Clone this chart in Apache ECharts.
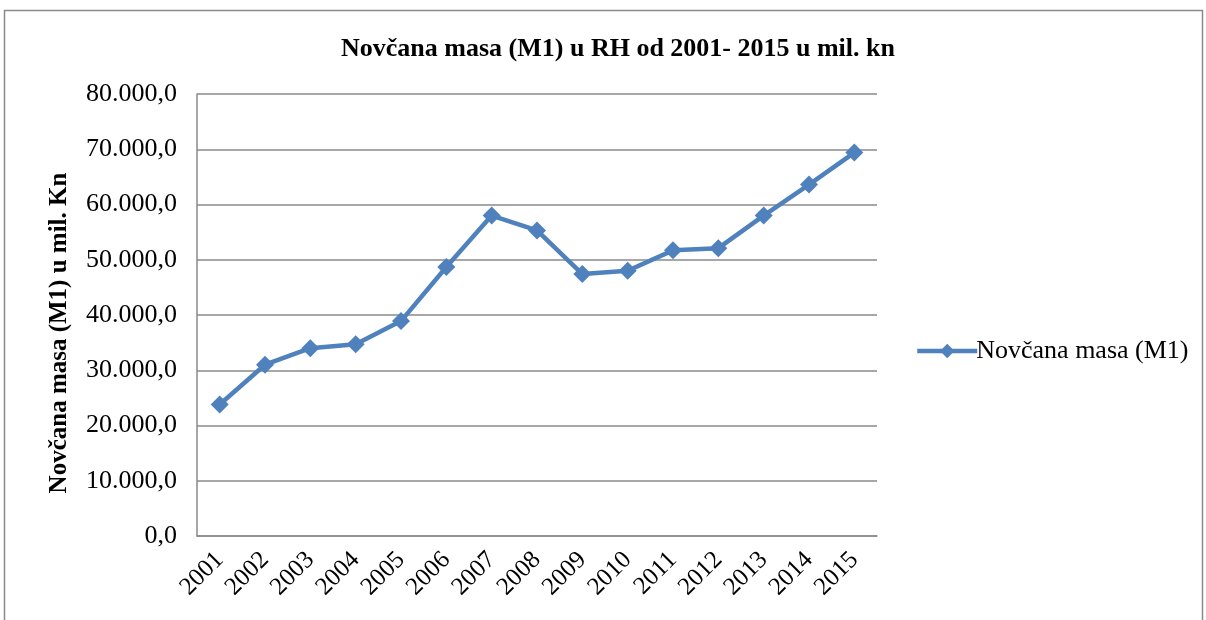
<!DOCTYPE html>
<html>
<head>
<meta charset="utf-8">
<script src="https://cdn.jsdelivr.net/npm/echarts@6/dist/echarts.min.js"></script>
<style>
  html, body { margin: 0; padding: 0; background: #fff; }
  #chart { width: 1206px; height: 620px; }
</style>
</head>
<body>
<div id="chart"></div>
<script>
const years = ['2001', '2002', '2003', '2004', '2005', '2006', '2007', '2008',
  '2009', '2010', '2011', '2012', '2013', '2014', '2015'];
const m1Values = [23800, 31000, 34000, 34700, 38900, 48700, 58000, 55300,
  47400, 48000, 51700, 52100, 58000, 63600, 69400];
const seriesName = 'Novčana masa (M1)';

const font = 'Liberation Serif, Times New Roman, serif';

// 80000 -> "80.000,0"
const fmt = (v) => {
  const s = Math.round(v).toString().replace(/\B(?=(\d{3})+(?!\d))/g, '.');
  return s + ',0';
};

const chart = echarts.init(document.getElementById('chart'));
chart.setOption({
  animation: false,
  backgroundColor: '#fff',
  textStyle: { fontFamily: font },
  graphic: [{
    type: 'rect',
    shape: { x: 4.5, y: 10.5, width: 1198, height: 640 },
    style: { fill: 'none', stroke: '#8a8a8a', lineWidth: 1.5 },
    silent: true
  }],
  title: {
    text: 'Novčana masa (M1) u RH od 2001- 2015 u mil. kn',
    left: 613,
    textAlign: 'center',
    top: 31,
    textStyle: { fontFamily: font, fontSize: 26, fontWeight: 'bold', color: '#000' }
  },
  grid: { left: 197, right: 329, top: 94, bottom: 84 },
  legend: {
    orient: 'vertical',
    left: 910,
    top: 333,
    itemWidth: 60,
    itemHeight: 18,
    itemGap: 4,
    lineStyle: { width: 4.5 },
    textStyle: { fontFamily: font, fontSize: 26, color: '#000', padding: [0, 0, 0, -6] },
    data: [seriesName]
  },
  xAxis: {
    type: 'category',
    data: years,
    boundaryGap: true,
    axisLine: { lineStyle: { color: '#8a8a8a', width: 1.5 } },
    axisTick: { show: false },
    axisLabel: {
      rotate: 45,
      fontFamily: font,
      fontSize: 25,
      color: '#000',
      margin: 20,
      interval: 0
    }
  },
  yAxis: {
    type: 'value',
    min: 0,
    max: 80000,
    interval: 10000,
    name: 'Novčana masa (M1) u mil. Kn',
    nameLocation: 'middle',
    nameGap: 125,
    nameTextStyle: {
      fontFamily: font, fontSize: 25, fontWeight: 'bold', color: '#000',
      padding: [0, 36, 0, 0]
    },
    axisLine: { show: true, lineStyle: { color: '#8a8a8a', width: 1.5 } },
    axisTick: { show: false },
    splitLine: { lineStyle: { color: '#8a8a8a', width: 1.5 } },
    axisLabel: {
      formatter: fmt,
      fontFamily: font,
      fontSize: 26,
      color: '#000',
      margin: 20
    }
  },
  series: [{
    name: seriesName,
    type: 'line',
    data: m1Values,
    symbol: 'diamond',
    symbolSize: 18,
    itemStyle: { color: '#4F81BD' },
    lineStyle: { color: '#4F81BD', width: 4.5 }
  }]
});
</script>
</body>
</html>
